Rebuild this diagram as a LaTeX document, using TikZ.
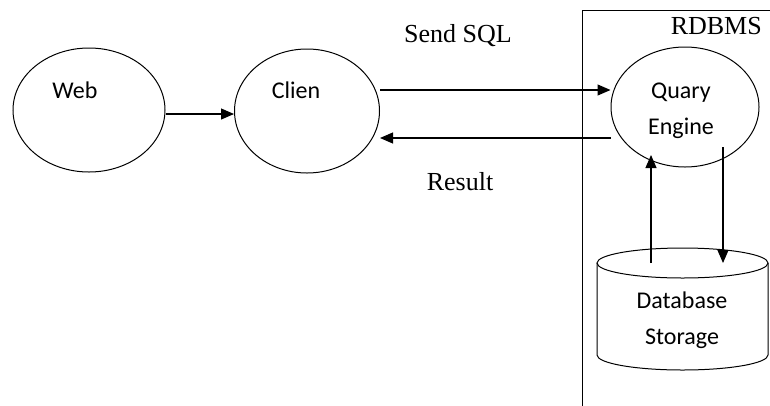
\documentclass[tikz,border=0pt]{standalone}
\usepackage{fontspec}
\setmainfont{Liberation Serif}
\newfontfamily\calfont{Carlito}
\usetikzlibrary{arrows.meta,shapes.geometric}
\tikzset{
  oval/.style={draw, ellipse, line width=1pt, minimum width=152pt, minimum height=124pt, inner sep=0pt},
  lbl/.style={font=\calfont\fontsize{24}{36}\selectfont, inner sep=0pt, align=center},
  captxt/.style={font=\fontsize{26}{30}\selectfont, inner sep=0pt},
  stroke/.style={line width=1pt},
  arr/.style={-{Triangle[length=13pt,width=11pt]}, line width=1.1pt}
}
\begin{document}
\begin{tikzpicture}[x=1pt, y=-1pt]
\useasboundingbox (0,0) rectangle (770,405);
% frame of the RDBMS
\draw[stroke] (582,430) |- (790,10);
\node[captxt, anchor=east] (rdbms) at (762,26) {RDBMS};
% ovals
\node[oval] (web) at (89,110) {};
\node[oval, minimum width=145pt] (clien) at (307,111) {};
\node[oval, minimum width=148pt, minimum height=120pt] (qe) at (685,107) {};
% the store
\draw[stroke] (682.5,263) ellipse [x radius=85.5pt, y radius=15pt];
\draw[stroke] (597,263) -- (597,355) arc[start angle=180, end angle=360, x radius=85.5pt, y radius=15pt] -- (768,263);
% texts
\node[lbl] (webtxt) at (75,90) {Web};
\node[lbl] (clientxt) at (296,90) {Clien};
\node[lbl] (qetxt) at (681,111) {Quary\\Engine};
\node[lbl] (dbtxt) at (682,320) {Database\\Storage};
\node[captxt] (sendtxt) at (458,36) {Send SQL};
\node[captxt] (restxt) at (460,182) {Result};
% ends at the top of the store
\coordinate (dbup) at (651,263);
\coordinate (dbdown) at (723,263);
\coordinate (qeup) at (651,155);
\coordinate (qedown) at (723,147);
% connectors
\draw[arr] (web.east |- 0,114) -- (clien.west |- 0,114);
\draw[arr] (clien.east |- 0,90) -- (qe.west |- 0,90);
\draw[arr] (qe.west |- 0,138) -- (clien.east |- 0,138);
\draw[arr] (dbup) -- (qeup);
\draw[arr] (qedown) -- (dbdown);
\end{tikzpicture}
\end{document}
